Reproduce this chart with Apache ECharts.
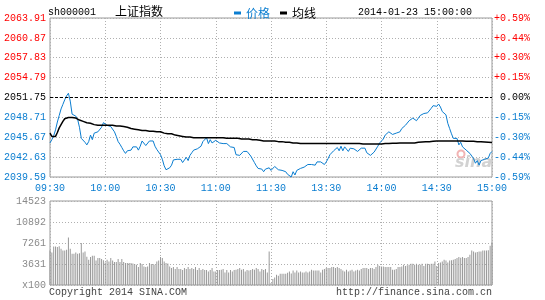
<!DOCTYPE html>
<html><head><meta charset="utf-8">
<script src="https://cdn.jsdelivr.net/npm/echarts@6/dist/echarts.min.js"></script>
<style>html,body{margin:0;padding:0;background:#fff}#c{width:545px;height:300px}</style>
</head><body><div id="c"></div>
<script>
const prevClose = 2051.75;
const timeLabels = ['09:30','10:00','10:30','11:00','11:30','13:30','14:00','14:30','15:00'];
const priceTickLabels = ['2039.59','2042.63','2045.67','2048.71','2051.75','2054.79','2057.83','2060.87','2063.91'];
const pctTickLabels = ['-0.59%','-0.44%','-0.30%','-0.15%','0.00%','+0.15%','+0.30%','+0.44%','+0.59%'];
const volTickLabels = ['x100','3631','7261','10892','14523'];

const price = [
2044.8,2045.3,2045.9,2046.8,2048.0,2049.0,2050.0,2050.7,2051.4,2052.0,
2052.4,2051.2,2049.2,2049.0,2048.9,2048.4,2047.2,2045.5,2045.2,2044.9,
2044.5,2045.0,2046.0,2045.3,2046.3,2046.3,2046.5,2046.2,2047.2,2047.9,
2047.6,2047.5,2047.5,2047.3,2047.0,2046.5,2045.8,2045.0,2044.6,2044.1,
2043.6,2043.2,2043.6,2043.5,2043.7,2044.2,2044.3,2044.2,2043.7,2044.3,
2045.1,2044.8,2044.4,2044.7,2045.1,2045.0,2045.1,2044.3,2043.8,2043.5,
2043.0,2042.3,2041.3,2040.7,2040.5,2041.0,2041.4,2042.2,2042.4,2042.3,
2042.0,2042.3,2041.8,2042.2,2042.6,2042.1,2042.9,2043.3,2043.7,2043.8,
2043.9,2044.1,2044.3,2045.0,2045.3,2045.6,2044.7,2045.3,2044.8,2045.1,
2045.2,2044.9,2044.8,2044.7,2044.7,2044.9,2044.7,2044.4,2044.2,2044.2,
2044.1,2043.0,2043.1,2042.9,2043.2,2043.5,2043.5,2043.5,2043.3,2042.8,
2042.6,2041.8,2041.3,2040.9,2041.0,2040.8,2040.4,2040.8,2041.0,2041.0,
2040.6,2040.9,2041.2,2041.1,2040.7,2040.5,2040.6,2040.7,2040.4,2040.0,
2039.8,2039.6,2040.4,2039.9,2040.6,2040.4,2040.9,2041.2,2041.1,2041.0,
2041.5,2041.3,2041.5,2041.7,2041.4,2041.9,2041.8,2041.9,2041.7,2041.5,
2041.9,2042.4,2043.0,2043.3,2043.6,2043.8,2044.1,2043.6,2044.3,2043.6,
2044.2,2043.9,2043.5,2044.0,2043.7,2043.9,2043.9,2043.5,2043.8,2044.0,
2043.7,2044.0,2043.3,2043.6,2042.9,2042.8,2043.4,2043.4,2044.3,2044.8,
2045.0,2045.4,2046.0,2046.2,2046.5,2046.3,2046.1,2046.0,2046.3,2046.6,
2046.5,2047.0,2047.3,2047.5,2047.8,2048.2,2048.5,2048.6,2048.7,2048.2,
2048.6,2049.0,2049.1,2049.3,2049.0,2049.4,2049.7,2050.1,2050.5,2050.6,
2050.4,2050.75,2050.3,2049.6,2049.7,2049.1,2047.8,2047.0,2046.2,2045.5,
2045.3,2045.5,2044.5,2044.9,2044.2,2044.5,2043.7,2043.9,2043.2,2043.4,
2042.4,2041.7,2042.1,2041.4,2042.1,2041.9,2042.3,2042.5,2042.5,2043.2,2043.5
];

const avgPrice = [
2046.3,2045.8,2045.7,2045.8,2046.4,2047.1,2047.6,2048.1,2048.5,2048.6,
2048.7,2048.7,2048.7,2048.7,2048.6,2048.5,2048.3,2048.2,2048.1,2048.0,
2047.9,2047.8,2047.8,2047.7,2047.6,2047.5,2047.5,2047.5,2047.5,2047.5,
2047.5,2047.5,2047.5,2047.5,2047.5,2047.5,2047.4,2047.4,2047.4,2047.3,
2047.3,2047.3,2047.2,2047.1,2047.0,2047.0,2046.9,2046.9,2046.8,2046.8,
2046.7,2046.7,2046.7,2046.6,2046.6,2046.6,2046.6,2046.5,2046.5,2046.5,
2046.5,2046.4,2046.3,2046.3,2046.2,2046.2,2046.2,2046.1,2046.0,2046.0,
2045.9,2045.9,2045.8,2045.8,2045.7,2045.7,2045.7,2045.6,2045.6,2045.6,
2045.6,2045.6,2045.6,2045.6,2045.6,2045.6,2045.6,2045.6,2045.6,2045.6,
2045.6,2045.6,2045.6,2045.6,2045.6,2045.5,2045.5,2045.5,2045.5,2045.5,
2045.5,2045.5,2045.5,2045.4,2045.4,2045.4,2045.4,2045.4,2045.4,2045.4,
2045.3,2045.3,2045.3,2045.3,2045.2,2045.2,2045.1,2045.1,2045.1,2045.1,
2045.1,2045.1,2045.1,2045.0,2045.0,2045.0,2045.0,2044.9,2044.9,2044.9,
2044.9,2044.8,2044.8,2044.8,2044.8,2044.7,2044.7,2044.7,2044.7,2044.7,
2044.7,2044.7,2044.7,2044.7,2044.7,2044.7,2044.7,2044.7,2044.7,2044.7,
2044.7,2044.7,2044.7,2044.7,2044.7,2044.7,2044.7,2044.7,2044.7,2044.7,
2044.7,2044.7,2044.7,2044.7,2044.7,2044.7,2044.7,2044.7,2044.7,2044.7,
2044.65,2044.65,2044.65,2044.65,2044.65,2044.65,2044.65,2044.65,2044.65,2044.65,
2044.65,2044.7,2044.7,2044.7,2044.7,2044.7,2044.75,2044.75,2044.75,2044.75,
2044.8,2044.8,2044.8,2044.8,2044.8,2044.8,2044.8,2044.8,2044.8,2044.8,
2044.9,2044.9,2044.95,2044.95,2045.0,2045.0,2045.0,2045.05,2045.05,2045.05,
2045.1,2045.1,2045.1,2045.1,2045.1,2045.1,2045.1,2045.1,2045.1,2045.1,
2045.1,2045.1,2045.1,2045.1,2045.1,2045.05,2045.05,2045.05,2045.05,2045.05,
2045.05,2045.0,2045.0,2045.0,2045.0,2045.0,2044.95,2044.95,2044.9,2044.9,2044.85
];

const volume = [
5960,5620,6650,6650,6550,6700,6250,5960,5960,6100,
8200,6250,5390,5390,5620,5390,5500,7240,5620,5790,
4900,4360,4820,5050,5050,4240,4650,4650,4480,4300,
3900,4360,4070,4650,4240,3990,3990,4480,3990,4480,
3990,3790,3790,3790,3790,3700,3620,3500,3100,3790,
3620,3200,3100,3200,3790,3620,3620,3500,4070,4240,
4820,4650,4070,3790,3700,3200,2930,3100,2760,3100,
2760,2760,2580,2930,2760,3100,2760,2930,2760,3100,
2600,2930,2600,2760,2580,2580,2350,2580,2930,2350,
2350,2580,2580,2650,2760,2180,2580,2180,2580,2350,
2580,2650,2760,2930,2650,2760,2350,2580,2500,2580,
2760,2650,2930,2760,2350,2760,2600,2760,2180,5790,
340,1030,1300,1770,1600,1950,1950,1950,1950,2100,
2350,2000,2520,2180,2520,2180,2350,2180,2180,2350,
2180,2350,2640,2520,2520,2520,2520,2180,2640,2760,
2930,2930,2930,3100,3100,2930,3100,2930,2760,2520,
2350,2640,2350,2500,2640,2350,2520,2640,2520,2760,
2930,2930,2930,2760,2930,2930,2760,3100,3500,3300,
3200,3200,3100,3100,3100,3100,2640,2640,2760,3100,
3100,3200,3500,3300,3400,3500,3670,3670,3500,3670,
3500,3500,3670,3300,3670,3670,3600,3670,3670,4070,
3300,3800,3900,4070,4360,4240,3900,4240,4300,4360,
4480,4650,4820,4700,4820,4650,4650,4820,5220,5960,
5790,5620,5700,5790,5790,5960,5960,5960,6000,6770,7340
];

const minutes = price.map((_, i) => String(i));
const BLUE = '#0a7dd0', RED = '#ff0000', GRID = '#b0b0b0', FRAME = '#9a9a9a';
const mono = '"Liberation Mono","DejaVu Sans Mono",monospace';
const cjk = '"Noto Sans CJK SC",sans-serif';
const pMin = 2039.59, pMax = 2063.91, pStep = 3.04;
const vMax = 14523, vStep = vMax / 4;
const pIdx = v => Math.round((parseFloat(v) - pMin) / pStep);
const pColor = v => { const i = pIdx(v); return i < 4 ? BLUE : (i === 4 ? '#000' : RED); };
const dotted = { color: GRID, type: [1, 2], width: 1 };

const chart = echarts.init(document.getElementById('c'), null, { renderer: 'canvas' });
chart.setOption({
  animation: false,
  backgroundColor: '#fff',
  grid: [
    { left: 50, top: 18, width: 442, height: 159, show: true, borderColor: FRAME, borderWidth: 1 },
    { left: 50, top: 201, width: 442, height: 84, show: true, borderColor: FRAME, borderWidth: 1 }
  ],
  legend: {
    left: 229, top: 2, icon: 'rect', itemWidth: 7, itemHeight: 3, itemGap: 10,
    textStyle: { fontFamily: cjk, fontSize: 12 },
    data: [
      { name: '价格', textStyle: { color: BLUE } },
      { name: '均线', textStyle: { color: '#000' } }
    ]
  },
  xAxis: [
    { type: 'category', gridIndex: 0, data: minutes, boundaryGap: false,
      axisLine: { show: false }, axisTick: { show: false },
      axisLabel: { interval: 29, color: BLUE, fontFamily: mono, fontSize: 10, margin: 6,
        formatter: (v, i) => timeLabels[Math.round(i / 30)] },
      splitLine: { show: true, interval: 29, lineStyle: dotted } },
    { type: 'category', gridIndex: 1, data: minutes, boundaryGap: false,
      axisLine: { show: false }, axisTick: { show: false }, axisLabel: { show: false },
      splitLine: { show: true, interval: 29, lineStyle: dotted } }
  ],
  yAxis: [
    { type: 'value', gridIndex: 0, position: 'left', min: pMin, max: pMax, interval: pStep,
      axisLine: { show: false }, axisTick: { show: false },
      splitLine: { show: true, lineStyle: dotted },
      axisLabel: { margin: 4, fontFamily: mono, fontSize: 10,
        formatter: v => priceTickLabels[pIdx(v)], color: v => pColor(v) } },
    { type: 'value', gridIndex: 0, position: 'right', min: pMin, max: pMax, interval: pStep,
      axisLine: { show: false }, axisTick: { show: false }, splitLine: { show: false },
      axisLabel: { margin: 38, align: 'right', fontFamily: mono, fontSize: 10,
        formatter: v => pctTickLabels[pIdx(v)], color: v => pColor(v) } },
    { type: 'value', gridIndex: 1, position: 'left', min: 0, max: vMax, interval: vStep,
      axisLine: { show: false }, axisTick: { show: false },
      splitLine: { show: true, lineStyle: dotted },
      axisLabel: { margin: 4, fontFamily: mono, fontSize: 10, color: '#8a8a8a',
        formatter: v => volTickLabels[Math.round(parseFloat(v) / vStep)] } }
  ],
  series: [
    { name: '价格', type: 'line', xAxisIndex: 0, yAxisIndex: 0, data: price,
      symbol: 'none', lineStyle: { color: BLUE, width: 1 }, itemStyle: { color: BLUE },
      markLine: { silent: true, symbol: 'none', label: { show: false },
        lineStyle: { color: '#000', type: [3, 2], width: 1 },
        data: [{ yAxis: prevClose }] } },
    { name: '均线', type: 'line', xAxisIndex: 0, yAxisIndex: 0, data: avgPrice,
      symbol: 'none', lineStyle: { color: '#000', width: 1.5 }, itemStyle: { color: '#000' } },
    { name: '成交量', type: 'bar', xAxisIndex: 1, yAxisIndex: 2, data: volume,
      barWidth: 1, itemStyle: { color: '#999' } }
  ],
  graphic: [
    { type: 'text', left: 48, top: 7, style: { text: 'sh000001', font: '10px ' + mono, fill: '#000' } },
    { type: 'text', left: 115, top: 5, style: { text: '上证指数', font: '12px ' + cjk, fill: '#000' } },
    { type: 'text', right: 73, top: 7, style: { text: '2014-01-23 15:00:00', font: '10px ' + mono, fill: '#000' } },
    { type: 'text', left: 49, top: 287, style: { text: 'Copyright 2014 SINA.COM', font: '10px ' + mono, fill: '#444' } },
    { type: 'text', right: 53, top: 287, style: { text: 'http://finance.sina.com.cn', font: '10px ' + mono, fill: '#444' } },
    { type: 'circle', shape: { cx: 461, cy: 154, r: 3.5 }, style: { fill: 'none', stroke: '#f2b4b4', lineWidth: 2 }, z: 1 },
    { type: 'text', left: 455, top: 155, style: { text: 'sina', font: 'italic bold 16px "DejaVu Sans",sans-serif', fill: '#d2d2d2' }, z: 1 }
  ]
});
</script>
</body></html>
